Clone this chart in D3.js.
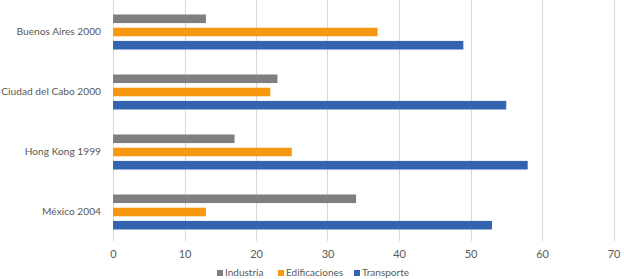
<!DOCTYPE html>
<html>
<head>
<meta charset="utf-8">
<script src="https://cdn.jsdelivr.net/npm/d3@7"></script>
<style>
body { margin:0; background:#fff; }
text { font-family: Lato, "Open Sans", sans-serif; }
</style>
</head>
<body>
<svg id="chart"></svg>
<script>
var width = 624, height = 279;
var margin = {top: 1, right: 10, bottom: 38, left: 113};

// datos
var ciudades = ["Buenos Aires 2000", "Ciudad del Cabo 2000", "Hong Kong 1999", "México 2004"];
var series = ["Industria", "Edificaciones", "Transporte"];
var industria = [13, 23, 17, 34];
var edificaciones = [37, 22, 25, 13];
var transporte = [49, 55, 58, 53];
var xTicks = [0, 10, 20, 30, 40, 50, 60, 70];
var colores = ["#7f7f7f", "#f7980f", "#3463b0"];

var valores = [industria, edificaciones, transporte];
var data = ciudades.map(function(c, i){
	return {ciudad: c, vals: series.map(function(s, j){ return {serie: s, v: valores[j][i]}; })};
});

var svg = d3.select("#chart")
	.attr("width", width)
	.attr("height", height);

var x = d3.scaleLinear()
	.domain([0, 70])
	.range([margin.left, 613.5]);

var y = d3.scaleBand()
	.domain(ciudades)
	.range([margin.top, 241]);

var y1 = d3.scaleBand()
	.domain(series)
	.range([13.5, 48.5])
	.paddingInner(0.35);

var color = d3.scaleOrdinal().domain(series).range(colores);

// lineas de cuadricula
svg.append("g")
	.selectAll("line")
	.data(xTicks)
	.join("line")
	.attr("x1", d => Math.round(x(d)) + 0.5)
	.attr("x2", d => Math.round(x(d)) + 0.5)
	.attr("y1", 0)
	.attr("y2", 241)
	.attr("stroke", "#d9d9d9")
	.attr("stroke-width", 1);

// barras
var grupos = svg.append("g")
	.selectAll("g")
	.data(data)
	.join("g")
	.attr("transform", d => "translate(0," + y(d.ciudad) + ")");

grupos.selectAll("rect")
	.data(d => d.vals)
	.join("rect")
	.attr("x", x(0))
	.attr("y", d => y1(d.serie))
	.attr("width", d => x(d.v) - x(0))
	.attr("height", y1.bandwidth())
	.attr("fill", d => color(d.serie));

// etiquetas de categoria
svg.append("g")
	.selectAll("text")
	.data(ciudades)
	.join("text")
	.attr("x", 101)
	.attr("y", d => y(d) + y.bandwidth() / 2 + 1)
	.attr("text-anchor", "end")
	.attr("dominant-baseline", "middle")
	.attr("font-size", "10.2px")
	.attr("fill", "#595959")
	.text(d => d);

// eje x
var xAxis = d3.axisBottom(x).tickValues(xTicks).tickSize(0).tickPadding(0);
svg.append("g")
	.attr("transform", "translate(0,250)")
	.call(xAxis)
	.call(g => g.select(".domain").remove())
	.selectAll("text")
	.attr("font-size", "11px")
	.attr("font-family", "Lato, 'Open Sans', sans-serif")
	.attr("fill", "#595959");

// leyenda
var legendPos = [217, 278, 354];
var legend = svg.append("g")
	.selectAll("g")
	.data(series)
	.join("g")
	.attr("transform", (d, i) => "translate(" + legendPos[i] + ",273)");

legend.append("rect")
	.attr("x", 0)
	.attr("y", -3)
	.attr("width", 6)
	.attr("height", 6)
	.attr("fill", d => color(d));

legend.append("text")
	.attr("x", 8)
	.attr("y", 0)
	.attr("dominant-baseline", "middle")
	.attr("font-size", "10px")
	.attr("fill", "#595959")
	.text(d => d);
</script>
</body>
</html>
